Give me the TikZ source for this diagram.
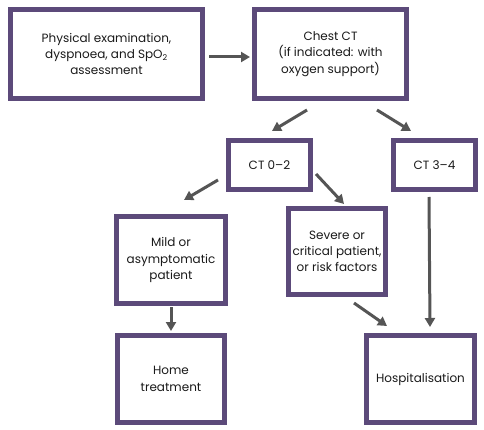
\documentclass[tikz,border=0pt]{standalone}
\usepackage{fontspec}
\setmainfont{Poppins}
\usetikzlibrary{arrows.meta}
\definecolor{boxpurple}{HTML}{5C4A7A}
\definecolor{arrgray}{HTML}{555555}
\definecolor{txt}{HTML}{1A1A1A}
\tikzset{
  box/.style={draw=boxpurple, line width=5pt, fill=white, align=center, inner sep=0pt,
    text=txt, font=\fontsize{12}{16.3}\selectfont},
  arr/.style={draw=arrgray, line width=3pt, -{Triangle[length=9pt,width=10pt]}},
}
\begin{document}
\begin{tikzpicture}[x=1pt,y=-1pt]
\useasboundingbox (0,0) rectangle (484,430);
% boxes (outer px coords)
\node[box, minimum width=192pt, minimum height=89pt] (b1) at (106.5,54) {Physical examination,\\dyspnoea, and SpO\textsubscript{2}\\assessment};
\node[box, minimum width=152pt, minimum height=89pt] (b2) at (330.5,54) {Chest CT\\(if indicated: with\\oxygen support)};
\node[box, minimum width=82pt, minimum height=49pt] (ct02) at (269.5,165) {CT 0–2};
\node[box, minimum width=82pt, minimum height=49pt] (ct34) at (434.5,165) {CT 3–4};
\node[box, minimum width=109pt, minimum height=87pt] (mild) at (171,260) {Mild or\\asymptomatic\\patient};
\node[box, minimum width=97pt, minimum height=86pt] (sev) at (337,251.5) {Severe or\\critical patient,\\or risk factors};
\node[box, minimum width=107pt, minimum height=87pt] (home) at (171,379) {Home\\treatment};
\node[box, minimum width=108pt, minimum height=87pt] (hosp) at (420.5,379) {Hospitalisation};
% arrow end points
\coordinate (a1s) at (209,57);  \coordinate (a1e) at (250,57);
\coordinate (a2s) at (307,110); \coordinate (a2e) at (272,131);
\coordinate (a3s) at (377,110); \coordinate (a3e) at (411,131);
\coordinate (a4s) at (218,180); \coordinate (a4e) at (184,200);
\coordinate (a5s) at (316,174); \coordinate (a5e) at (344,204);
\coordinate (a6s) at (171,307); \coordinate (a6e) at (171,331);
\coordinate (a7s) at (354,303); \coordinate (a7e) at (387,326);
\coordinate (a8s) at (429,197); \coordinate (a8e) at (430,327);
\draw[arr] (a1s) -- (a1e);
\draw[arr] (a2s) -- (a2e);
\draw[arr] (a3s) -- (a3e);
\draw[arr] (a4s) -- (a4e);
\draw[arr] (a5s) -- (a5e);
\draw[arr] (a6s) -- (a6e);
\draw[arr] (a7s) -- (a7e);
\draw[arr] (a8s) -- (a8e);
\end{tikzpicture}
\end{document}
